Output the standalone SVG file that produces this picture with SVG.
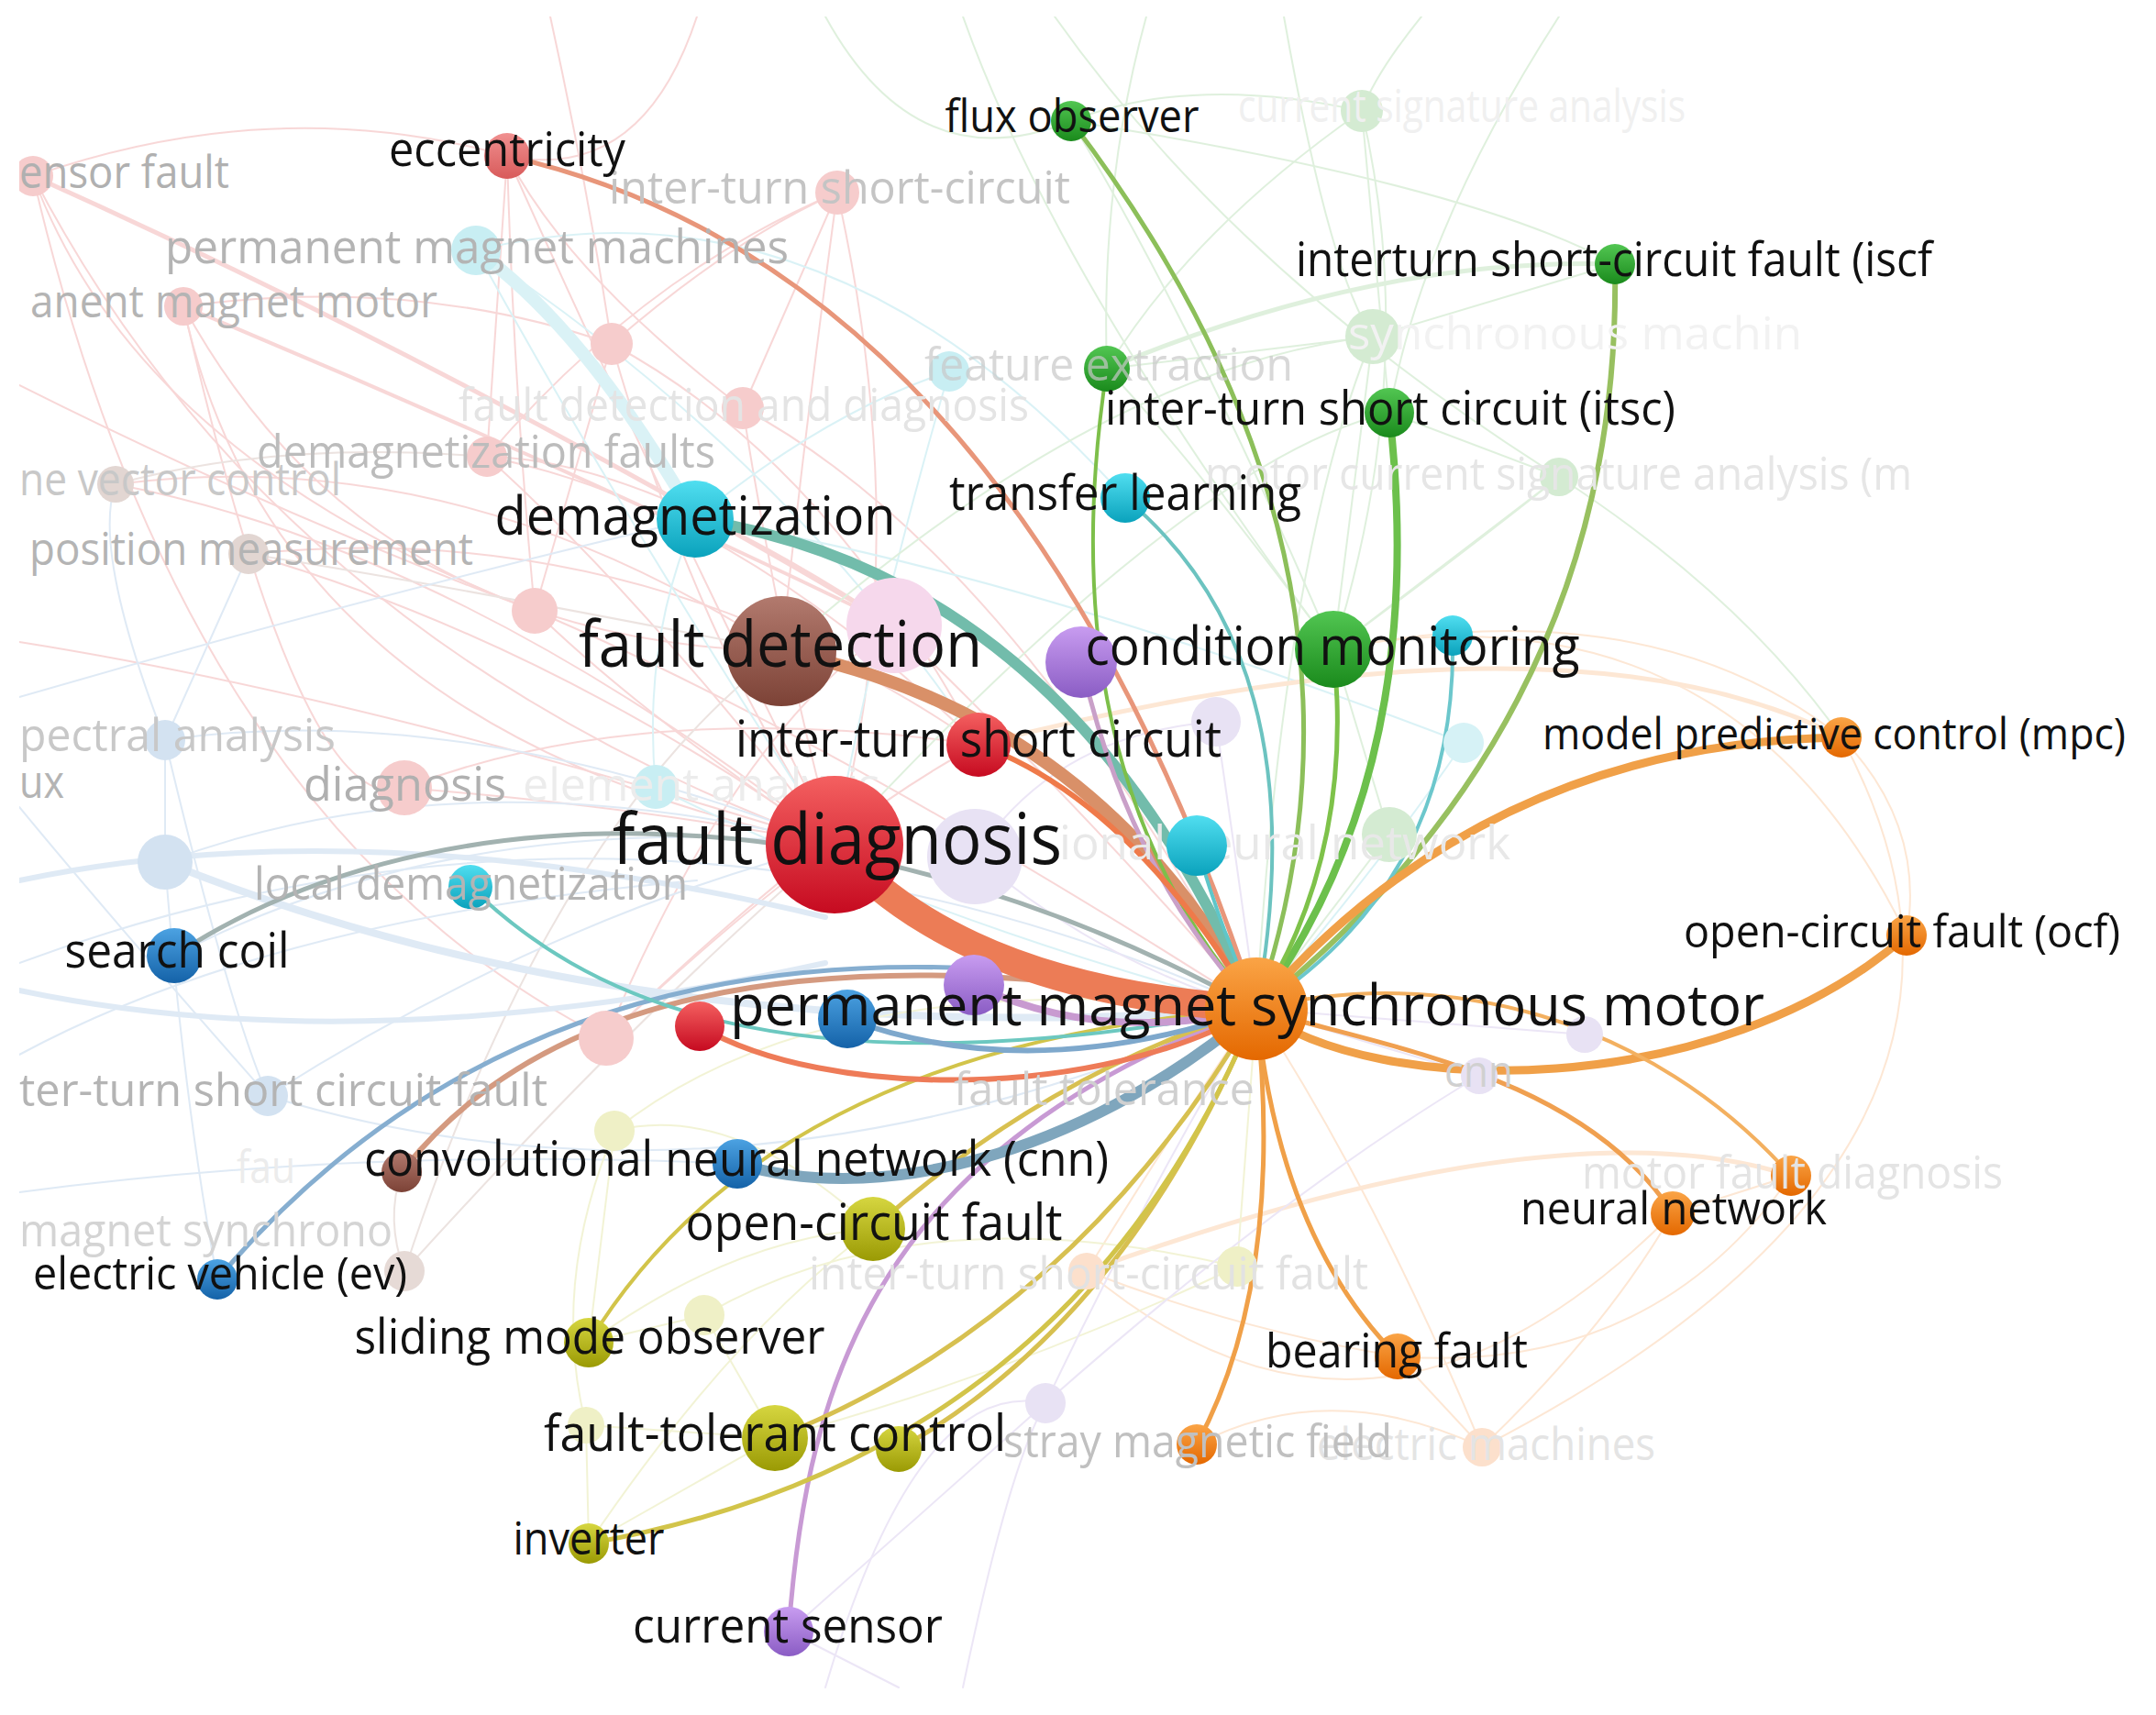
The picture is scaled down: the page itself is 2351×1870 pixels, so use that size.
<svg xmlns="http://www.w3.org/2000/svg" width="2351" height="1870" viewBox="0 0 2351 1870">
<defs>
<style>
text{font-family:"Open Sans","Noto Sans","DejaVu Sans",sans-serif}
.lb{fill:#111}
.fd{font-size:50px}
path{fill:none;stroke-linecap:round}
.f{stroke-width:2;opacity:0.55}
.fp{stroke:#f3b8b8}.fc{stroke:#bde9f0}.fb{stroke:#c6d9ee}.fg{stroke:#c6e5c3}.fo{stroke:#fcd4b2}.fy{stroke:#e9ebb4}.fl{stroke:#ddd2f0}.fn{stroke:#ddcdc8}
</style>
<clipPath id="frame"><rect x="21" y="18" width="2320" height="1824"/></clipPath>
<linearGradient id="gRed" x1="0" y1="0" x2="0" y2="1"><stop offset="0" stop-color="#f46060"/><stop offset="1" stop-color="#c60a20"/></linearGradient>
<linearGradient id="gBrown" x1="0" y1="0" x2="0" y2="1"><stop offset="0" stop-color="#b27a6e"/><stop offset="1" stop-color="#7c4236"/></linearGradient>
<linearGradient id="gOrange" x1="0" y1="0" x2="0" y2="1"><stop offset="0" stop-color="#faa446"/><stop offset="1" stop-color="#e46800"/></linearGradient>
<linearGradient id="gGreen" x1="0" y1="0" x2="0" y2="1"><stop offset="0" stop-color="#52c652"/><stop offset="1" stop-color="#1a8a1c"/></linearGradient>
<linearGradient id="gCyan" x1="0" y1="0" x2="0" y2="1"><stop offset="0" stop-color="#50def0"/><stop offset="1" stop-color="#0aa2bc"/></linearGradient>
<linearGradient id="gPurple" x1="0" y1="0" x2="0" y2="1"><stop offset="0" stop-color="#c89cf0"/><stop offset="1" stop-color="#8a5cc4"/></linearGradient>
<linearGradient id="gBlue" x1="0" y1="0" x2="0" y2="1"><stop offset="0" stop-color="#4ca2e2"/><stop offset="1" stop-color="#1462a8"/></linearGradient>
<linearGradient id="gOlive" x1="0" y1="0" x2="0" y2="1"><stop offset="0" stop-color="#d6d640"/><stop offset="1" stop-color="#9a9a04"/></linearGradient>
<linearGradient id="gPink" x1="0" y1="0" x2="0" y2="1"><stop offset="0" stop-color="#f09090"/><stop offset="1" stop-color="#d85a5a"/></linearGradient>
</defs>
<rect x="0" y="0" width="2351" height="1870" fill="#fff"/>
<g clip-path="url(#frame)">
<g id="connectors">
<g id="faint-links" class="f">
<path class="fp" d="M36,192 Q300,700 910,921"/>
<path class="fp" d="M36,192 Q150,500 583,666"/>
<path class="fp" d="M36,192 Q300,100 553,170"/>
<path class="fp" d="M36,192 Q200,900 661,1132"/>
<path class="fp" d="M200,334 Q300,800 910,921"/>
<path class="fp" d="M200,334 Q400,700 852,710"/>
<path class="fp" d="M200,334 Q450,300 667,375"/>
<path class="fp" d="M200,334 Q330,900 441,859"/>
<path class="fp" d="M553,170 Q700,500 910,921"/>
<path class="fp" d="M553,170 Q560,420 583,666"/>
<path class="fp" d="M553,170 Q620,300 810,445"/>
<path class="fp" d="M553,170 L531,498"/>
<path class="fp" d="M913,210 Q1000,600 910,921"/>
<path class="fp" d="M913,210 Q800,260 667,375"/>
<path class="fp" d="M913,210 Q880,450 852,710"/>
<path class="fp" d="M913,210 Q700,300 531,498"/>
<path class="fp" d="M913,210 L810,445"/>
<path class="fp" d="M667,375 Q760,700 910,921"/>
<path class="fp" d="M667,375 Q900,500 1067,812"/>
<path class="fp" d="M667,375 L583,666"/>
<path class="fp" d="M810,445 Q850,700 910,921"/>
<path class="fp" d="M810,445 Q1100,600 1370,1100"/>
<path class="fp" d="M531,498 Q700,650 910,921"/>
<path class="fp" d="M531,498 Q800,550 1067,812"/>
<path class="fp" d="M126,528 Q500,600 910,921"/>
<path class="fp" d="M126,528 Q500,480 852,710"/>
<path class="fp" d="M271,604 Q600,700 910,921"/>
<path class="fp" d="M271,604 Q700,560 1067,812"/>
<path class="fp" d="M583,666 Q900,800 1370,1100"/>
<path class="fp" d="M583,666 Q700,780 910,921"/>
<path class="fp" d="M441,859 Q700,880 910,921"/>
<path class="fp" d="M441,859 Q700,760 1067,812"/>
<path class="fp" d="M661,1132 Q800,1000 910,921"/>
<path class="fp" d="M661,1132 Q900,900 1067,812"/>
<path class="fp" d="M21,700 Q400,760 910,921"/>
<path class="fp" d="M21,420 Q300,560 583,666"/>
<path class="fp" d="M975,682 Q1200,900 1370,1100"/>
<path class="fp" d="M975,682 Q800,800 661,1132"/>
<path class="fp" d="M975,682 Q700,500 531,498"/>
<path class="fp" d="M600,18 Q640,200 667,375"/>
<path class="fp" d="M760,18 Q700,200 553,170"/>
<path class="fp" d="M36,192 Q500,400 975,682" style="stroke-width:5"/>
<path class="fp" d="M200,334 Q600,500 975,682" style="stroke-width:4"/>
<path class="fn" d="M126,528 Q300,480 531,498"/>
<path class="fn" d="M271,604 Q500,640 852,710"/>
<path class="fn" d="M441,1386 Q420,1330 438,1278"/>
<path class="fn" d="M441,1386 Q600,900 852,710"/>
<path class="fn" d="M441,1386 Q700,1100 910,921"/>
<path class="fc" d="M519,273 Q700,600 910,921"/>
<path class="fc" d="M519,273 Q860,500 1067,812"/>
<path class="fc" d="M519,273 Q640,360 758,566" style="stroke-width:14"/>
<path class="fc" d="M1035,405 Q900,450 758,566"/>
<path class="fc" d="M1035,405 Q950,700 910,921"/>
<path class="fc" d="M715,858 Q1000,1000 1370,1100"/>
<path class="fc" d="M715,858 Q700,700 758,566"/>
<path class="fc" d="M1596,810 Q1500,950 1370,1100"/>
<path class="fc" d="M758,566 Q1100,620 1596,810"/>
<path class="fc" d="M519,273 Q900,180 1227,543"/>
<path class="fb" d="M180,807 Q500,760 910,921"/>
<path class="fb" d="M180,940 Q500,820 910,921"/>
<path class="fb" d="M180,940 Q700,1150 1370,1100" style="stroke-width:8"/>
<path class="fb" d="M21,1050 Q700,800 1370,1100"/>
<path class="fb" d="M292,1195 Q600,1000 910,921"/>
<path class="fb" d="M292,1195 Q800,1350 1370,1100"/>
<path class="fb" d="M190,1042 Q500,880 910,921"/>
<path class="fb" d="M180,807 L180,940"/>
<path class="fb" d="M180,807 L271,604"/>
<path class="fb" d="M21,960 Q400,880 900,1000" style="stroke-width:6"/>
<path class="fb" d="M21,1080 Q400,1160 900,1050" style="stroke-width:6"/>
<path class="fb" d="M21,1150 Q300,1000 760,960"/>
<path class="fb" d="M21,880 Q120,1000 292,1195"/>
<path class="fb" d="M180,807 Q250,1100 292,1195"/>
<path class="fb" d="M180,940 Q200,1200 237,1395"/>
<path class="fb" d="M21,1300 Q400,1250 804,1269"/>
<path class="fb" d="M21,760 Q400,650 758,566"/>
<path class="fb" d="M180,807 Q100,600 126,528"/>
<path class="fg" d="M1485,121 Q1300,80 1168,132"/>
<path class="fg" d="M1485,121 Q1550,400 1454,708"/>
<path class="fg" d="M1485,121 L1515,450"/>
<path class="fg" d="M1485,121 Q1300,250 1207,402"/>
<path class="fg" d="M1497,367 L1454,708"/>
<path class="fg" d="M1497,367 L1207,402"/>
<path class="fg" d="M1497,367 L1761,288"/>
<path class="fg" d="M1497,367 Q1400,600 1370,1100"/>
<path class="fg" d="M1700,520 L1454,708"/>
<path class="fg" d="M1700,520 L1515,450"/>
<path class="fg" d="M1700,520 Q1900,650 2008,804"/>
<path class="fg" d="M1168,132 Q1300,350 1454,708"/>
<path class="fg" d="M1207,402 Q1300,500 1454,708"/>
<path class="fg" d="M1515,910 L1454,708"/>
<path class="fg" d="M1515,910 L1370,1100"/>
<path class="fg" d="M1050,18 Q1150,300 1454,708"/>
<path class="fg" d="M1400,18 Q1450,300 1497,367"/>
<path class="fg" d="M900,18 Q1000,200 1168,132"/>
<path class="fg" d="M1250,18 Q1200,200 1207,402"/>
<path class="fg" d="M1550,18 Q1500,80 1485,121"/>
<path class="fg" d="M1700,18 Q1550,250 1515,450"/>
<path class="fg" d="M1150,18 Q1350,300 1700,520"/>
<path class="fg" d="M1168,132 Q1600,200 1761,288"/>
<path class="fg" d="M1207,402 Q1500,280 1761,288" style="stroke-width:5"/>
<path class="fg" d="M910,921 Q1300,500 1515,450"/>
<path class="fg" d="M852,710 Q1200,400 1497,367"/>
<path class="fg" d="M1454,708 Q1600,600 1700,520"/>
<path class="fo" d="M1616,1578 Q1500,1300 1370,1100"/>
<path class="fo" d="M1616,1578 L1524,1479"/>
<path class="fo" d="M1616,1578 Q1750,1450 1824,1323"/>
<path class="fo" d="M1185,1386 Q1300,1200 1370,1100"/>
<path class="fo" d="M1185,1386 Q1350,1450 1524,1479"/>
<path class="fo" d="M1953,1282 L1824,1323"/>
<path class="fo" d="M1953,1282 Q1800,1500 1524,1479"/>
<path class="fo" d="M2008,804 Q2100,900 2079,1020"/>
<path class="fo" d="M2008,804 Q2250,1250 1616,1578"/>
<path class="fo" d="M1454,708 Q1800,640 2008,804"/>
<path class="fo" d="M1500,700 Q1900,650 2079,1020"/>
<path class="fo" d="M1305,1575 Q1450,1500 1616,1578"/>
<path class="fo" d="M1185,1386 Q1700,1200 1953,1282" style="stroke-width:5"/>
<path class="fo" d="M1067,812 Q1700,650 2008,804" style="stroke-width:5"/>
<path class="fo" d="M1185,1386 Q1500,1650 1824,1323"/>
<path class="fy" d="M670,1233 L642,1464"/>
<path class="fy" d="M768,1434 L642,1464"/>
<path class="fy" d="M768,1434 L845,1568"/>
<path class="fy" d="M639,1554 L642,1683"/>
<path class="fy" d="M639,1554 L845,1568"/>
<path class="fy" d="M1349,1381 Q1100,1500 845,1568"/>
<path class="fy" d="M1349,1381 L1370,1100"/>
<path class="fy" d="M642,1464 Q800,1350 952,1340"/>
<path class="fy" d="M642,1683 L845,1568"/>
<path class="fy" d="M642,1683 Q800,1450 952,1340"/>
<path class="fy" d="M670,1233 Q800,1200 952,1340"/>
<path class="fy" d="M670,1233 Q900,1050 1370,1100"/>
<path class="fy" d="M639,1554 Q600,1400 670,1233"/>
<path class="fy" d="M768,1434 Q1000,1300 1349,1381"/>
<path class="fl" d="M1140,1530 Q1250,1300 1370,1100"/>
<path class="fl" d="M1140,1530 L860,1779"/>
<path class="fl" d="M1613,1173 L1370,1100"/>
<path class="fl" d="M1728,1128 L1370,1100"/>
<path class="fl" d="M1063,934 Q1200,1050 1370,1100"/>
<path class="fl" d="M860,1779 L980,1840"/>
<path class="fl" d="M900,1840 Q1000,1500 1140,1530"/>
<path class="fl" d="M1050,1840 Q1100,1600 1140,1530"/>
<path class="fl" d="M1326,787 Q1350,950 1370,1100"/>
<path class="fl" d="M1063,934 Q1150,800 1326,787"/>
<path class="fl" d="M1140,1530 Q1400,1300 1613,1173"/>
</g>
<g id="links">
<path d="M852,710 Q1200,780 1370,1100" stroke="#d99068" stroke-width="14"/>
<path d="M758,566 Q1170,630 1370,1100" stroke="#72bcab" stroke-width="12"/>
<path d="M553,170 Q1108,296 1370,1100" stroke="#e8967a" stroke-width="5"/>
<path d="M1168,132 Q1536,615 1370,1100" stroke="#8cbf5a" stroke-width="5"/>
<path d="M1207,402 Q1140,840 1370,1100" stroke="#7dbf4a" stroke-width="4"/>
<path d="M1227,543 Q1440,720 1370,1100" stroke="#6cc3c0" stroke-width="4"/>
<path d="M1515,450 Q1560,840 1370,1100" stroke="#6cc04c" stroke-width="8"/>
<path d="M1761,288 Q1770,780 1370,1100" stroke="#98c060" stroke-width="6"/>
<path d="M1454,708 Q1478,930 1370,1100" stroke="#7ec24a" stroke-width="5"/>
<path d="M1584,693 Q1590,960 1370,1100" stroke="#6cc7cc" stroke-width="4"/>
<path d="M1179,722 Q1230,950 1370,1100" stroke="#c9a0c8" stroke-width="5"/>
<path d="M860,1779 C880,1500 960,1250 1370,1100" stroke="#c89ad4" stroke-width="5"/>
<path d="M1067,812 Q1230,870 1370,1100" stroke="#ef7a4a" stroke-width="6"/>
<path d="M1305,922 Q1330,1010 1370,1100" stroke="#5fc6c9" stroke-width="4"/>
<path d="M1370,1100 Q1620,810 2008,804" stroke="#f0a048" stroke-width="9"/>
<path d="M1370,1100 C1500,1200 1875,1200 2079,1020" stroke="#f0a048" stroke-width="9"/>
<path d="M1370,1100 C1500,1140 1725,1170 1824,1323" stroke="#f0a050" stroke-width="5"/>
<path d="M1370,1100 C1575,1050 1800,1110 1953,1282" stroke="#f3b060" stroke-width="4"/>
<path d="M1370,1100 Q1395,1350 1524,1479" stroke="#f0a048" stroke-width="5"/>
<path d="M1370,1100 Q1402,1395 1305,1575" stroke="#f0a048" stroke-width="5"/>
<path d="M1370,1100 Q1170,1440 845,1568" stroke="#d7c050" stroke-width="5"/>
<path d="M1370,1100 Q1230,1440 980,1580" stroke="#d7c050" stroke-width="5"/>
<path d="M1370,1100 Q1170,1590 642,1683" stroke="#d2c44a" stroke-width="5"/>
<path d="M1370,1100 Q840,1140 642,1464" stroke="#d2c44a" stroke-width="4"/>
<path d="M1370,1100 Q1140,1170 952,1340" stroke="#d8c050" stroke-width="5"/>
<path d="M804,1269 C975,1320 1200,1245 1370,1100" stroke="#7fa6bd" stroke-width="12"/>
<path d="M438,1278 Q675,975 1370,1100" stroke="#d49a80" stroke-width="6"/>
<path d="M237,1395 Q630,930 1370,1100" stroke="#86aed0" stroke-width="5"/>
<path d="M190,1042 C450,870 900,840 1370,1100" stroke="#a2b2b0" stroke-width="5"/>
<path d="M513,967 C630,1080 840,1200 1370,1100" stroke="#6cc8c0" stroke-width="4"/>
<path d="M763,1119 C900,1200 1200,1200 1370,1100" stroke="#ee7b58" stroke-width="6"/>
<path d="M924,1111 Q1125,1185 1370,1100" stroke="#7ea8cc" stroke-width="6"/>
<path d="M1062,1074 Q1200,1140 1370,1100" stroke="#c89ad0" stroke-width="8"/>
<path d="M910,921 Q1050,1080 1370,1100" stroke="#ec7c56" stroke-width="30"/>
</g>
</g>
<g id="faded-nodes">
<g id="n-sensor-fault"><circle cx="36" cy="192" r="22" fill="#f6cccc"/><text x="21" y="205" class="fd" fill="#b0b0b0" textLength="229" lengthAdjust="spacingAndGlyphs">ensor fault</text></g>
<g id="n-inter-turn-short-circuit-2"><circle cx="913" cy="210" r="24" fill="#f6cccc"/><text x="664" y="222" class="fd" fill="#c4c4c4" textLength="503" lengthAdjust="spacingAndGlyphs">inter-turn short-circuit</text></g>
<g id="n-permanent-magnet-machines"><circle cx="519" cy="273" r="27" fill="#c8eef3"/><text x="180" y="287" style="font-size:52px" fill="#b4b4b4" textLength="680" lengthAdjust="spacingAndGlyphs">permanent magnet machines</text></g>
<g id="n-permanent-magnet-motor"><circle cx="200" cy="334" r="21" fill="#f6cccc"/><text x="33" y="346" class="fd" fill="#b4b4b4" textLength="444" lengthAdjust="spacingAndGlyphs">anent magnet motor</text></g>
<g id="n-faded-pink-1"><circle cx="667" cy="375" r="23" fill="#f6cccc"/></g>
<g id="n-fault-detection-and-diagnosis"><circle cx="810" cy="445" r="23" fill="#f6cccc"/><text x="500" y="459" class="fd" fill="#e4e4e4" textLength="622" lengthAdjust="spacingAndGlyphs">fault detection and diagnosis</text></g>
<g id="n-demagnetization-faults"><circle cx="531" cy="498" r="22" fill="#f6cccc"/><text x="280" y="510" class="fd" fill="#bcbcbc" textLength="500" lengthAdjust="spacingAndGlyphs">demagnetization faults</text></g>
<g id="n-vector-control"><circle cx="126" cy="528" r="20" fill="#e2d6d2"/><text x="21" y="540" class="fd" fill="#c8c8c8" textLength="351" lengthAdjust="spacingAndGlyphs">ne vector control</text></g>
<g id="n-position-measurement"><circle cx="271" cy="604" r="22" fill="#e2d6d2"/><text x="32" y="616" class="fd" fill="#b4b4b4" textLength="484" lengthAdjust="spacingAndGlyphs">position measurement</text></g>
<g id="n-faded-pink-2"><circle cx="583" cy="666" r="25" fill="#f6cccc"/></g>
<g id="n-faded-big-pink"><circle cx="975" cy="682" r="52" fill="#f6d8ec"/></g>
<g id="n-spectral-analysis"><circle cx="180" cy="807" r="22" fill="#d3e2f1"/><text x="21" y="819" class="fd" fill="#c8c8c8" textLength="345" lengthAdjust="spacingAndGlyphs">pectral analysis</text></g>
<g id="n-flux"><text x="21" y="870" class="fd" fill="#b4b4b4" textLength="49" lengthAdjust="spacingAndGlyphs">ux</text></g>
<g id="n-diagnosis"><circle cx="441" cy="859" r="30" fill="#f6cccc"/><text x="331" y="873" style="font-size:52px" fill="#b0b0b0" textLength="221" lengthAdjust="spacingAndGlyphs">diagnosis</text></g>
<g id="n-element-analysis"><circle cx="715" cy="858" r="24" fill="#c8eef3"/><text x="570" y="873" class="fd" fill="#ececec" textLength="390" lengthAdjust="spacingAndGlyphs">element analysis</text></g>
<g id="n-faded-blue-1"><circle cx="180" cy="940" r="30" fill="#d3e2f1"/></g>
<g id="n-faded-lavender-big"><circle cx="1063" cy="934" r="52" fill="#e8e2f4"/></g>
<g id="n-neural-network-2"><circle cx="1515" cy="910" r="30" fill="#d4ebd2"/><text x="1155" y="937" style="font-size:52px" fill="#e8e8e8" textLength="492" lengthAdjust="spacingAndGlyphs">ional neural network</text></g>
<g id="n-faded-lavender-1"><circle cx="1326" cy="787" r="27" fill="#e8e2f4"/></g>
<g id="n-faded-cyan-1"><circle cx="1596" cy="810" r="22" fill="#d6f2f6"/></g>
<g id="n-feature-extraction-faded"><circle cx="1035" cy="405" r="22" fill="#c8eef3"/></g>
<g id="n-current-signature-analysis"><circle cx="1485" cy="121" r="23" fill="#d4ebd2"/><text x="1350" y="133" class="fd" fill="#f0f0f0" textLength="488" lengthAdjust="spacingAndGlyphs">current signature analysis</text></g>
<g id="n-synchronous-machine"><circle cx="1497" cy="367" r="30" fill="#d4ebd2"/><text x="1470" y="381" class="fd" fill="#f2f2f2" textLength="495" lengthAdjust="spacingAndGlyphs">synchronous machin</text></g>
<g id="n-motor-current-signature-analysis"><circle cx="1700" cy="520" r="21" fill="#d4ebd2"/><text x="1314" y="534" class="fd" fill="#e6e6e6" textLength="771" lengthAdjust="spacingAndGlyphs">motor current signature analysis (m</text></g>
<g id="n-inter-turn-short-circuit-fault"><circle cx="292" cy="1195" r="22" fill="#d3e2f1"/><text x="21" y="1206" class="fd" fill="#b4b4b4" textLength="576" lengthAdjust="spacingAndGlyphs">ter-turn short circuit fault</text></g>
<g id="n-faded-pink-3"><circle cx="661" cy="1132" r="30" fill="#f6cccc"/></g>
<g id="n-faded-olive-1"><circle cx="670" cy="1233" r="22" fill="#eff0c6"/></g>
<g id="n-fau"><text x="258" y="1290" class="fd" fill="#ececec" textLength="64" lengthAdjust="spacingAndGlyphs">fau</text></g>
<g id="n-magnet-synchrono"><circle cx="441" cy="1386" r="22" fill="#e6dad6"/><text x="21" y="1359" class="fd" fill="#d4d4d4" textLength="407" lengthAdjust="spacingAndGlyphs">magnet synchrono</text></g>
<g id="n-faded-olive-2"><circle cx="768" cy="1434" r="22" fill="#eff0c6"/></g>
<g id="n-faded-olive-3"><circle cx="639" cy="1554" r="20" fill="#eff0c6"/></g>
<g id="n-faded-lavender-2"><circle cx="1140" cy="1530" r="22" fill="#e8e2f4"/></g>
<g id="n-inter-turn-short-circuit-fault-2"><circle cx="1185" cy="1386" r="20" fill="#fce0cc"/><circle cx="1349" cy="1381" r="22" fill="#eff0c6"/><text x="882" y="1406" class="fd" fill="#e2e2e2" textLength="610" lengthAdjust="spacingAndGlyphs">inter-turn short-circuit fault</text></g>
<g id="n-fault-tolerance"><text x="1040" y="1205" class="fd" fill="#d0d0d0" textLength="328" lengthAdjust="spacingAndGlyphs">fault tolerance</text></g>
<g id="n-cnn"><circle cx="1613" cy="1173" r="20" fill="#e8e2f4"/><text x="1575" y="1185" style="font-size:48px" fill="#d0d0d0" textLength="75" lengthAdjust="spacingAndGlyphs">cnn</text></g>
<g id="n-faded-lavender-3"><circle cx="1728" cy="1128" r="20" fill="#e8e2f4"/></g>
<g id="n-electric-machines"><circle cx="1616" cy="1578" r="21" fill="#fce0cc"/><text x="1436" y="1592" class="fd" fill="#e4e4e4" textLength="369" lengthAdjust="spacingAndGlyphs">electric machines</text></g>
</g>
</g>
<g id="nodes">
<g id="n-cyan-cm"><circle cx="1584" cy="693" r="22" fill="url(#gCyan)"/></g>
<g id="n-purple-cm"><circle cx="1179" cy="722" r="39" fill="url(#gPurple)"/></g>
<g id="n-feature-extraction"><circle cx="1207" cy="402" r="25" fill="url(#gGreen)"/><text x="1008" y="415" class="fd" fill="#c8c8c8" fill-opacity="0.7" textLength="402" lengthAdjust="spacingAndGlyphs">feature extraction</text></g>
<g id="n-cyan-center"><circle cx="1305" cy="922" r="33" fill="url(#gCyan)"/></g>
<g id="n-red-left"><circle cx="763" cy="1119" r="27" fill="url(#gRed)"/></g>
<g id="n-blue-center"><circle cx="924" cy="1111" r="32" fill="url(#gBlue)"/></g>
<g id="n-purple-center"><circle cx="1062" cy="1074" r="33" fill="url(#gPurple)"/></g>
<g id="n-olive-ftc"><circle cx="980" cy="1580" r="25" fill="url(#gOlive)"/></g>
<g id="n-brown-cnn"><circle cx="438" cy="1278" r="22" fill="url(#gBrown)"/></g>
<g id="n-motor-fault-diagnosis"><circle cx="1953" cy="1282" r="22" fill="url(#gOrange)"/><text x="1725" y="1296" class="fd" fill="#e4e4e4" textLength="459" lengthAdjust="spacingAndGlyphs">motor fault diagnosis</text></g>
<g id="n-stray-magnetic-field"><circle cx="1305" cy="1575" r="22" fill="url(#gOrange)"/><text x="1094" y="1589" class="fd" fill="#c0c0c0" textLength="424" lengthAdjust="spacingAndGlyphs">stray magnetic field</text></g>
<g id="n-local-demagnetization"><circle cx="513" cy="967" r="24" fill="url(#gCyan)"/><text x="277" y="981" class="fd" fill="#b4b4b4" textLength="473" lengthAdjust="spacingAndGlyphs">local demagnetization</text></g>
<g id="n-eccentricity"><circle cx="553" cy="170" r="25" fill="url(#gPink)"/><text x="553" y="181" text-anchor="middle" class="lb" style="font-size:51px" textLength="258" lengthAdjust="spacingAndGlyphs">eccentricity</text></g>
<g id="n-flux-observer"><circle cx="1168" cy="132" r="22" fill="url(#gGreen)"/><text x="1169" y="144" text-anchor="middle" class="lb" style="font-size:49px" textLength="277" lengthAdjust="spacingAndGlyphs">flux observer</text></g>
<g id="n-iscf"><circle cx="1761" cy="288" r="22" fill="url(#gGreen)"/><text x="1760" y="301" text-anchor="middle" class="lb" style="font-size:51px" textLength="694" lengthAdjust="spacingAndGlyphs">interturn short-circuit fault (iscf</text></g>
<g id="n-itsc"><circle cx="1515" cy="450" r="27" fill="url(#gGreen)"/><text x="1516" y="463" text-anchor="middle" class="lb" style="font-size:52px" textLength="622" lengthAdjust="spacingAndGlyphs">inter-turn short circuit (itsc)</text></g>
<g id="n-transfer-learning"><circle cx="1227" cy="543" r="27" fill="url(#gCyan)"/><text x="1227" y="556" text-anchor="middle" class="lb" style="font-size:53px" textLength="384" lengthAdjust="spacingAndGlyphs">transfer learning</text></g>
<g id="n-demagnetization"><circle cx="758" cy="566" r="42" fill="url(#gCyan)"/><text x="758" y="583" text-anchor="middle" class="lb" style="font-size:59px" textLength="437" lengthAdjust="spacingAndGlyphs">demagnetization</text></g>
<g id="n-fault-detection"><circle cx="852" cy="710" r="60" fill="url(#gBrown)"/><text x="851" y="727" text-anchor="middle" class="lb" style="font-size:70px" textLength="440" lengthAdjust="spacingAndGlyphs">fault detection</text></g>
<g id="n-condition-monitoring"><circle cx="1454" cy="708" r="42" fill="url(#gGreen)"/><text x="1453" y="725" text-anchor="middle" class="lb" style="font-size:59px" textLength="539" lengthAdjust="spacingAndGlyphs">condition monitoring</text></g>
<g id="n-inter-turn-short-circuit"><circle cx="1067" cy="812" r="35" fill="url(#gRed)"/><text x="1067" y="825" text-anchor="middle" class="lb" style="font-size:54px" textLength="530" lengthAdjust="spacingAndGlyphs">inter-turn short circuit</text></g>
<g id="n-mpc"><circle cx="2008" cy="804" r="22" fill="url(#gOrange)"/><text x="2000" y="817" text-anchor="middle" class="lb" style="font-size:48px" textLength="636" lengthAdjust="spacingAndGlyphs">model predictive control (mpc)</text></g>
<g id="n-fault-diagnosis"><circle cx="910" cy="921" r="75" fill="url(#gRed)"/><text x="913" y="942" text-anchor="middle" class="lb" style="font-size:76px" textLength="490" lengthAdjust="spacingAndGlyphs">fault diagnosis</text></g>
<g id="n-search-coil"><circle cx="190" cy="1042" r="30" fill="url(#gBlue)"/><text x="193" y="1055" text-anchor="middle" class="lb" style="font-size:53px" textLength="245" lengthAdjust="spacingAndGlyphs">search coil</text></g>
<g id="n-ocf"><circle cx="2079" cy="1020" r="22" fill="url(#gOrange)"/><text x="2074" y="1033" text-anchor="middle" class="lb" style="font-size:50px" textLength="476" lengthAdjust="spacingAndGlyphs">open-circuit fault (ocf)</text></g>
<g id="n-pmsm"><circle cx="1370" cy="1100" r="56" fill="url(#gOrange)"/><text x="1360" y="1118" text-anchor="middle" class="lb" style="font-size:63px" textLength="1128" lengthAdjust="spacingAndGlyphs">permanent magnet synchronous motor</text></g>
<g id="n-cnn-conv"><circle cx="804" cy="1269" r="27" fill="url(#gBlue)"/><text x="803" y="1282" text-anchor="middle" class="lb" style="font-size:53px" textLength="812" lengthAdjust="spacingAndGlyphs">convolutional neural network (cnn)</text></g>
<g id="n-neural-network"><circle cx="1824" cy="1323" r="24" fill="url(#gOrange)"/><text x="1825" y="1335" text-anchor="middle" class="lb" style="font-size:50px" textLength="334" lengthAdjust="spacingAndGlyphs">neural network</text></g>
<g id="n-open-circuit-fault"><circle cx="952" cy="1340" r="35" fill="url(#gOlive)"/><text x="953" y="1352" text-anchor="middle" class="lb" style="font-size:55px" textLength="411" lengthAdjust="spacingAndGlyphs">open-circuit fault</text></g>
<g id="n-electric-vehicle"><circle cx="237" cy="1395" r="22" fill="url(#gBlue)"/><text x="240" y="1406" text-anchor="middle" class="lb" style="font-size:50px" textLength="408" lengthAdjust="spacingAndGlyphs">electric vehicle (ev)</text></g>
<g id="n-sliding-mode-observer"><circle cx="642" cy="1464" r="27" fill="url(#gOlive)"/><text x="643" y="1476" text-anchor="middle" class="lb" style="font-size:53px" textLength="513" lengthAdjust="spacingAndGlyphs">sliding mode observer</text></g>
<g id="n-bearing-fault"><circle cx="1524" cy="1479" r="25" fill="url(#gOrange)"/><text x="1523" y="1491" text-anchor="middle" class="lb" style="font-size:51px" textLength="286" lengthAdjust="spacingAndGlyphs">bearing fault</text></g>
<g id="n-fault-tolerant-control"><circle cx="845" cy="1568" r="36" fill="url(#gOlive)"/><text x="845" y="1582" text-anchor="middle" class="lb" style="font-size:55px" textLength="504" lengthAdjust="spacingAndGlyphs">fault-tolerant control</text></g>
<g id="n-inverter"><circle cx="642" cy="1683" r="22" fill="url(#gOlive)"/><text x="642" y="1695" text-anchor="middle" class="lb" style="font-size:49px" textLength="165" lengthAdjust="spacingAndGlyphs">inverter</text></g>
<g id="n-current-sensor"><circle cx="860" cy="1779" r="27" fill="url(#gPurple)"/><text x="859" y="1791" text-anchor="middle" class="lb" style="font-size:53px" textLength="338" lengthAdjust="spacingAndGlyphs">current sensor</text></g>
</g>
</svg>
